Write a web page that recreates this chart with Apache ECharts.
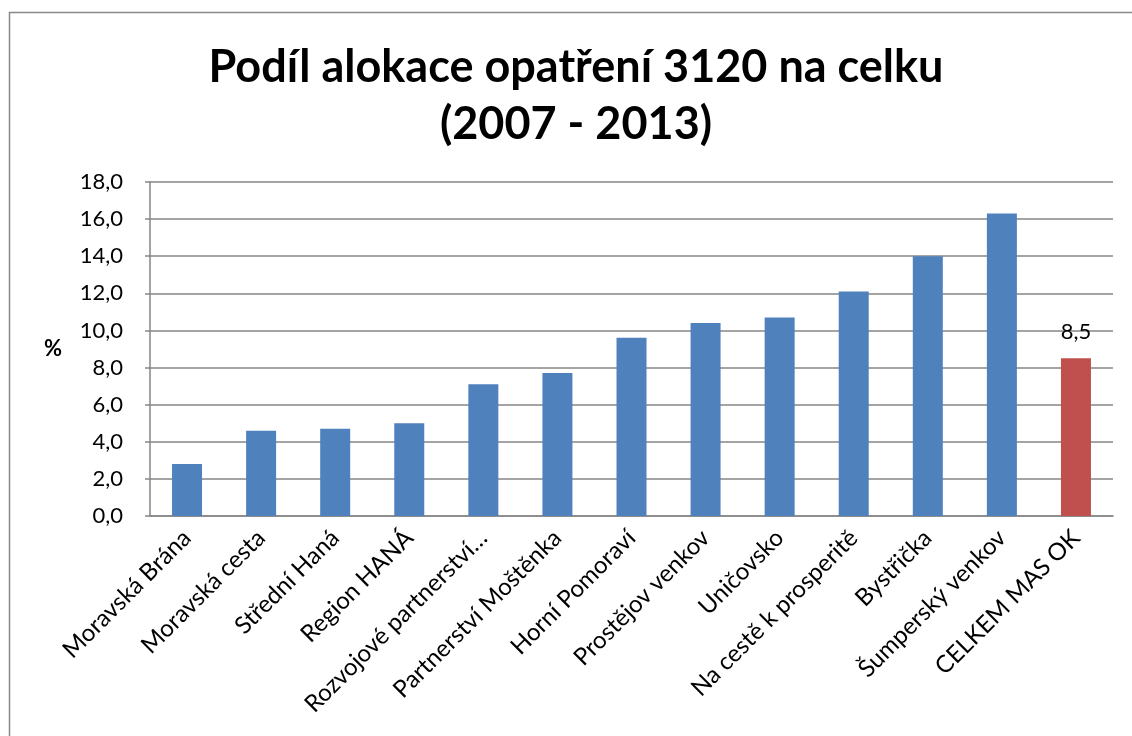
<!DOCTYPE html>
<html>
<head>
<meta charset="utf-8">
<script src="https://cdn.jsdelivr.net/npm/echarts@6/dist/echarts.min.js"></script>
<style>html,body{margin:0;padding:0;background:#fff}#c{width:1132px;height:736px}</style>
</head>
<body>
<div id="c"></div>
<script>
const titleText = 'Podíl alokace opatření 3120 na celku\n(2007 - 2013)';
const categories = ['Moravská Brána','Moravská cesta','Střední Haná','Region HANÁ','Rozvojové partnerství…','Partnerství Moštěnka','Horní Pomoraví','Prostějov venkov','Uničovsko','Na cestě k prosperitě','Bystřička','Šumperský venkov','CELKEM MAS OK'];
const values = [2.8, 4.6, 4.7, 5.0, 7.1, 7.7, 9.6, 10.4, 10.7, 12.1, 14.0, 16.3, 8.5];
const highlightIndex = 12;
const yTicks = { min: 0, max: 18, interval: 2 };
const yName = '%';

const FONT = 'Lato';
const chart = echarts.init(document.getElementById('c'));
chart.setOption({
  animation: false,
  backgroundColor: '#fff',
  graphic: [{
    type: 'rect', shape: { x: 9.5, y: 12.5, width: 1300, height: 900 },
    style: { fill: 'none', stroke: '#898989', lineWidth: 1.5 }, silent: true
  }, {
    type: 'text', x: 576, y: 39, silent: true,
    style: { text: titleText, fontFamily: FONT, fontWeight: 'bold', fontSize: 45, lineHeight: 57,
      fill: '#000', align: 'center', verticalAlign: 'top' }
  }],
  grid: { left: 150, right: 19, top: 182, bottom: 220, containLabel: false },
  xAxis: {
    type: 'category', data: categories,
    axisLine: { lineStyle: { color: '#868686', width: 1.5 } },
    axisTick: { show: false },
    axisLabel: { rotate: 45, interval: 0, fontFamily: FONT, fontSize: 24, color: '#000', margin: 18 }
  },
  yAxis: {
    type: 'value', min: yTicks.min, max: yTicks.max, interval: yTicks.interval,
    name: yName, nameLocation: 'middle', nameRotate: 0, nameGap: 88,
    nameTextStyle: { fontFamily: FONT, fontWeight: 'bold', fontSize: 22, color: '#000' },
    axisLine: { show: true, lineStyle: { color: '#868686', width: 1.5 } },
    axisTick: { show: true, length: 5, lineStyle: { color: '#868686', width: 1.5 } },
    axisLabel: { fontFamily: FONT, fontSize: 22, color: '#000', margin: 27,
      formatter: v => v.toFixed(1).replace('.', ',') },
    splitLine: { lineStyle: { color: '#868686', width: 1.5 } }
  },
  series: [{
    type: 'bar', barWidth: 30,
    data: values.map((v, i) => ({
      value: v,
      itemStyle: { color: i === highlightIndex ? '#C0504D' : '#4F81BD' },
      label: { show: i === highlightIndex }
    })),
    label: { position: 'top', distance: 15, fontFamily: FONT, fontSize: 22, color: '#000',
      formatter: p => p.value.toFixed(1).replace('.', ',') }
  }]
});
</script>
</body>
</html>
